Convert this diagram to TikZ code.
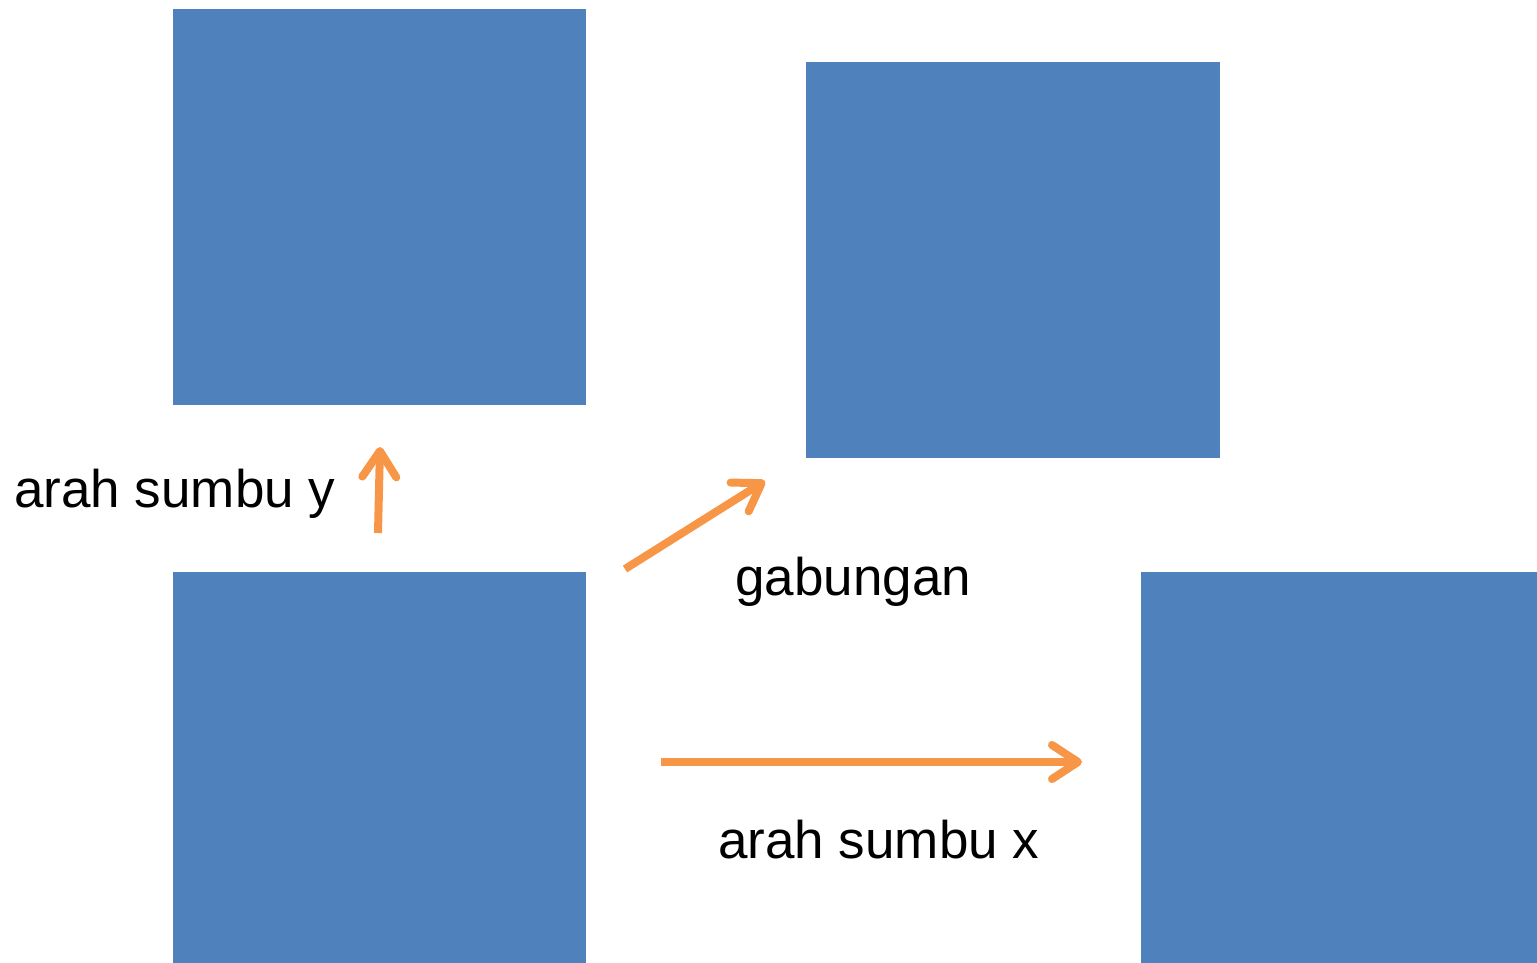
\documentclass[tikz,border=0pt]{standalone}
\usepackage{fontspec}
\setmainfont{Liberation Sans}
\usetikzlibrary{arrows.meta}
\definecolor{boxblue}{HTML}{4F81BD}
\definecolor{arroworange}{HTML}{F79646}
\tikzset{
  block/.style={fill=boxblue, draw=none},
  move/.style={draw=arroworange, line width=8pt,
    -{Straight Barb[length=26pt, width=34pt, round]}},
  caption/.style={anchor=base west, inner sep=0pt, font=\fontsize{53}{60}\selectfont}
}
\begin{document}
\begin{tikzpicture}[x=1pt, y=-1pt]
  \useasboundingbox (0,0) rectangle (1537,963);
  % the four squares
  \path[block] (173,9) rectangle (586,405);
  \path[block] (806,62) rectangle (1220,458);
  \path[block] (173,572) rectangle (586,963);
  \path[block] (1141,572) rectangle (1537,963);
  % arrow end points
  \coordinate (ys) at (378,533);
  \coordinate (ye) at (380,447);
  \coordinate (ds) at (625,569);
  \coordinate (de) at (765,481);
  \coordinate (xs) at (661,762);
  \coordinate (xe) at (1082,762);
  \draw[move] (ys) -- (ye);
  \draw[move] (ds) -- (de);
  \draw[move] (xs) -- (xe);
  % labels
  \node[caption] (ly) at (14,507) {arah sumbu y};
  \node[caption] (lg) at (735,595) {gabungan};
  \node[caption] (lx) at (718,858) {arah sumbu x};
\end{tikzpicture}
\end{document}
